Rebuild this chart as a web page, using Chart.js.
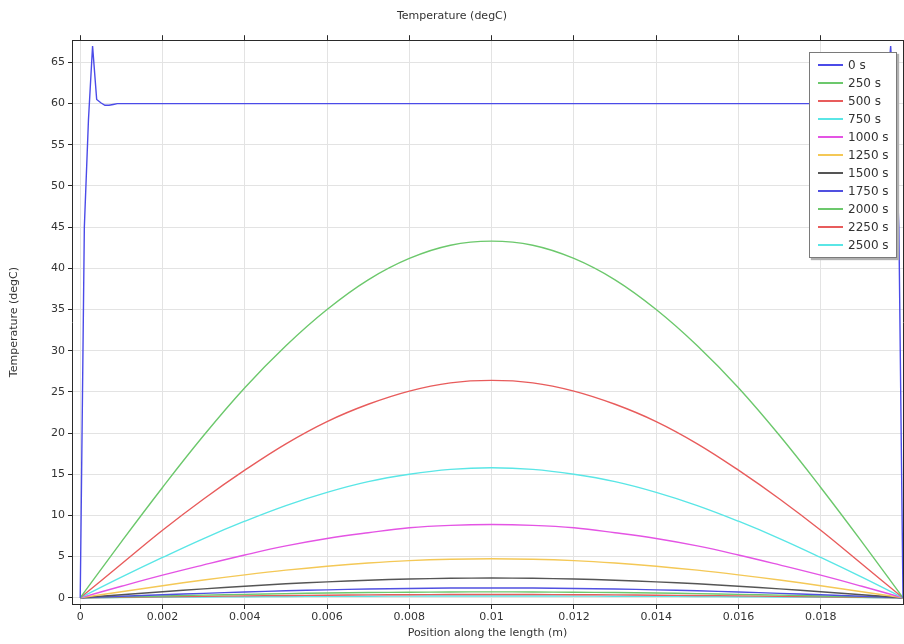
<!DOCTYPE html>
<html>
<head>
<meta charset="utf-8">
<title>Temperature (degC)</title>
<script src="https://cdn.jsdelivr.net/npm/chart.js@4.4.1/dist/chart.umd.min.js"></script>
<style>
  body { margin: 0; background: #fff; }
  #wrap { position: relative; width: 904px; height: 644px; }
  #legend {
    position: absolute; left: 809px; top: 52px; width: 86px;
    background: #fff; border: 1px solid #7a7a7a; box-shadow: 2px 2px 1px #b0b0b0;
    padding: 3px 0; font: 12px 'DejaVu Sans', sans-serif; color: #333;
  }
  .row { height: 18px; display: flex; align-items: center; white-space: nowrap; }
  .swatch { display: inline-block; width: 25px; height: 2px; margin: 0 5px 0 8px; }
</style>
</head>
<body>
<div id="wrap">
  <canvas id="chart" width="904" height="644"></canvas>
  <div id="legend"></div>
</div>
<script>
// series names and colours
const times = ['0 s', '250 s', '500 s', '750 s', '1000 s', '1250 s', '1500 s', '1750 s', '2000 s', '2250 s', '2500 s'];
const colors = ['#4b4be8', '#6cc86c', '#e85c5c', '#5ae6e6', '#e454e4', '#f4c856', '#555555', '#5050e0', '#6cc86c', '#e85c5c', '#5ae6e6'];

// initial profile (0 s), own positions
const pos0 = [0, 0.0001, 0.0002, 0.0003, 0.0004, 0.0005, 0.0006, 0.0007, 0.0008, 0.0009, 0.0012, 0.005, 0.01, 0.015, 0.0188, 0.0191, 0.0192, 0.0193, 0.0194, 0.0195, 0.0196, 0.0197, 0.0198, 0.0199, 0.02];
const temp0 = [0, 45, 58, 67, 60.5, 60.1, 59.8, 59.8, 59.9, 60, 60, 60, 60, 60, 60, 60, 60, 59.8, 59.8, 60.1, 60.5, 67, 58, 45, 0];

// positions for the later profiles
const positions = [0, 0.001, 0.002, 0.003, 0.004, 0.005, 0.006, 0.007, 0.008, 0.009, 0.01,
  0.011, 0.012, 0.013, 0.014, 0.015, 0.016, 0.017, 0.018, 0.019, 0.02];

const t250 = [0, 6.8, 13.4, 19.7, 25.5, 30.6, 35.0, 38.6, 41.2, 42.8, 43.3, 42.8, 41.2, 38.6, 35.0, 30.6, 25.5, 19.7, 13.4, 6.8, 0];
const t500 = [0, 4.1, 8.2, 12.0, 15.5, 18.7, 21.4, 23.5, 25.1, 26.1, 26.4, 26.1, 25.1, 23.5, 21.4, 18.7, 15.5, 12.0, 8.2, 4.1, 0];
const t750 = [0, 2.5, 4.9, 7.2, 9.3, 11.2, 12.8, 14.1, 15.0, 15.6, 15.8, 15.6, 15.0, 14.1, 12.8, 11.2, 9.3, 7.2, 4.9, 2.5, 0];
const t1000 = [0, 1.4, 2.75, 4.0, 5.2, 6.3, 7.2, 7.9, 8.5, 8.8, 8.9, 8.8, 8.5, 7.9, 7.2, 6.3, 5.2, 4.0, 2.75, 1.4, 0];
const t1250 = [0, 0.74, 1.47, 2.16, 2.79, 3.36, 3.84, 4.23, 4.52, 4.69, 4.75, 4.69, 4.52, 4.23, 3.84, 3.36, 2.79, 2.16, 1.47, 0.74, 0];
const t1500 = [0, 0.38, 0.74, 1.09, 1.41, 1.70, 1.94, 2.14, 2.28, 2.37, 2.4, 2.37, 2.28, 2.14, 1.94, 1.70, 1.41, 1.09, 0.74, 0.38, 0];
const t1750 = [0, 0.19, 0.37, 0.54, 0.71, 0.85, 0.97, 1.07, 1.14, 1.19, 1.2, 1.19, 1.14, 1.07, 0.97, 0.85, 0.71, 0.54, 0.37, 0.19, 0];
const t2000 = [0, 0.11, 0.22, 0.33, 0.42, 0.51, 0.58, 0.64, 0.68, 0.71, 0.72, 0.71, 0.68, 0.64, 0.58, 0.51, 0.42, 0.33, 0.22, 0.11, 0];
const t2250 = [0, 0.06, 0.12, 0.18, 0.24, 0.28, 0.32, 0.36, 0.38, 0.40, 0.40, 0.40, 0.38, 0.36, 0.32, 0.28, 0.24, 0.18, 0.12, 0.06, 0];
const t2500 = [0, 0.03, 0.07, 0.10, 0.13, 0.16, 0.18, 0.20, 0.21, 0.22, 0.22, 0.22, 0.21, 0.20, 0.18, 0.16, 0.13, 0.10, 0.07, 0.03, 0];

// axis ticks
const xTicks = [0, 0.002, 0.004, 0.006, 0.008, 0.01, 0.012, 0.014, 0.016, 0.018];
const yTicks = [0, 5, 10, 15, 20, 25, 30, 35, 40, 45, 50, 55, 60, 65];

const later = [t250, t500, t750, t1000, t1250, t1500, t1750, t2000, t2250, t2500];

const toPoints = (xs, ys) => xs.map((x, i) => ({ x: x, y: ys[i] }));

const datasets = [{
  label: times[0],
  data: toPoints(pos0, temp0),
  borderColor: colors[0],
  borderWidth: 1.4,
  tension: 0
}];
later.forEach((vals, i) => {
  datasets.push({
    label: times[i + 1],
    data: toPoints(positions, vals),
    borderColor: colors[i + 1],
    borderWidth: 1.4,
    tension: 0.4
  });
});

Chart.defaults.font.family = "'DejaVu Sans', sans-serif";
Chart.defaults.font.size = 11;
Chart.defaults.color = '#333';

const gridColor = '#e3e3e3';
const axisColor = '#2a2a2a';

const chart = new Chart(document.getElementById('chart'), {
  type: 'line',
  data: { datasets: datasets },
  options: {
    responsive: false,
    animation: false,
    elements: { point: { radius: 0 } },
    layout: { padding: 0 },
    plugins: {
      legend: { display: false },
      tooltip: { enabled: false },
      title: {
        display: true,
        text: 'Temperature (degC)',
        font: { size: 11, weight: 'normal' },
        color: '#333',
        padding: { top: 10, bottom: 7 }
      }
    },
    scales: {
      x: {
        type: 'linear',
        position: 'bottom',
        min: -0.0002,
        max: 0.02,
        afterBuildTicks: s => { s.ticks = xTicks.map(v => ({ value: v })); },
        afterFit: s => { s.height = 40; },
        ticks: { callback: v => String(v), padding: 2, maxRotation: 0 },
        grid: { color: gridColor, tickColor: axisColor, tickLength: 5 },
        border: { color: axisColor },
        title: { display: true, text: 'Position along the length (m)', padding: { top: 2, bottom: 4 } }
      },
      xTop: {
        type: 'linear',
        position: 'top',
        min: -0.0002,
        max: 0.02,
        afterBuildTicks: s => { s.ticks = xTicks.map(v => ({ value: v })); },
        afterFit: s => { s.height = 10; },
        ticks: { callback: () => '' },
        grid: { drawOnChartArea: false, tickColor: axisColor, tickLength: 5 },
        border: { color: axisColor }
      },
      y: {
        position: 'left',
        min: -0.75,
        max: 67.7,
        afterBuildTicks: s => { s.ticks = yTicks.map(v => ({ value: v })); },
        afterFit: s => { s.width = 72; },
        ticks: { padding: 3 },
        grid: { color: gridColor, tickColor: axisColor, tickLength: 4 },
        border: { color: axisColor },
        title: { display: true, text: 'Temperature (degC)', padding: { top: 8, bottom: 0 } }
      },
      yRight: {
        position: 'right',
        min: -0.75,
        max: 67.7,
        ticks: { display: false },
        afterFit: s => { s.width = 1; },
        grid: { drawOnChartArea: false, drawTicks: false },
        border: { color: axisColor }
      }
    }
  }
});

// legend box inside the plot, built from the chart's datasets
const legend = document.getElementById('legend');
chart.data.datasets.forEach(ds => {
  const row = document.createElement('div');
  row.className = 'row';
  const sw = document.createElement('span');
  sw.className = 'swatch';
  sw.style.backgroundColor = ds.borderColor;
  row.appendChild(sw);
  row.appendChild(document.createTextNode(ds.label));
  legend.appendChild(row);
});
</script>
</body>
</html>
